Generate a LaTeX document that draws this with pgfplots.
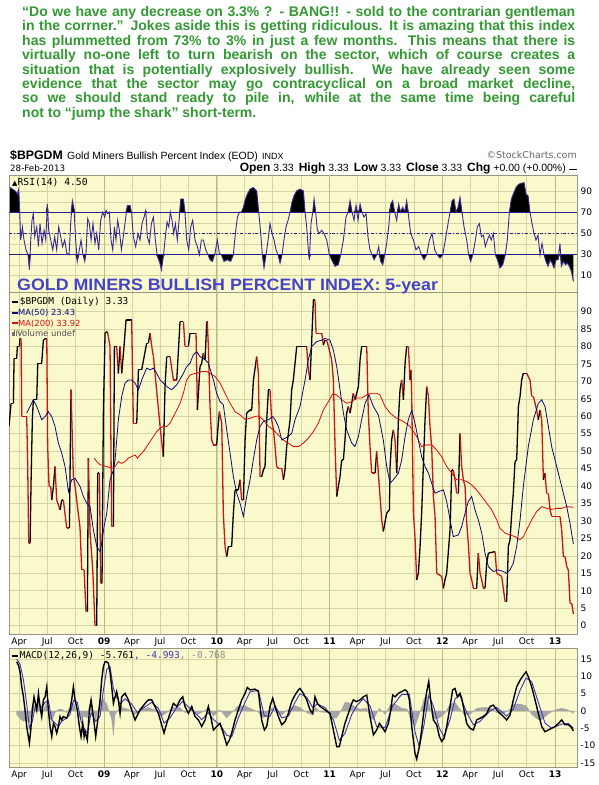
\documentclass[border=0pt]{standalone}
\usepackage{fontspec}
\setmainfont{Liberation Sans}
\newfontfamily\dejavu{DejaVu Sans}
\newfontfamily\dejamono{DejaVu Sans Mono}
\usepackage{graphicx}
\usepackage{pgfplots}
\pgfplotsset{compat=1.18}
\usepackage{pgfplotstable}

\definecolor{panelbg}{RGB}{250,249,204}
\definecolor{gridc}{RGB}{214,212,162}
\definecolor{yeargrid}{RGB}{186,184,132}
\definecolor{framec}{RGB}{150,150,130}
\definecolor{textgreen}{RGB}{51,153,51}
\definecolor{titleblue}{RGB}{68,68,200}
\definecolor{rsiline}{RGB}{58,40,150}
\definecolor{rsiref}{RGB}{40,30,140}
\definecolor{ma50}{RGB}{10,10,120}
\definecolor{ma200}{RGB}{225,10,10}
\definecolor{histgray}{RGB}{165,165,165}
\definecolor{sigblue}{RGB}{60,50,190}

% $BPGDM daily close; c = 1 where the following segment is a decline
\pgfplotstableread{
x y c
2008.157 57.1 0
2008.175 63.7 0
2008.196 63.7 0
2008.202 76.6 0
2008.225 76.6 0
2008.231 80.0 0
2008.249 80.0 0
2008.255 82.3 0
2008.264 82.3 1
2008.270 59.9 1
2008.314 59.9 1
2008.323 45.6 1
2008.332 23.6 1
2008.344 23.6 0
2008.353 41.8 0
2008.364 59.0 0
2008.373 64.7 0
2008.403 64.7 0
2008.412 75.2 0
2008.447 75.2 0
2008.462 81.8 0
2008.483 82.3 0
2008.492 82.3 1
2008.500 51.3 1
2008.512 39.9 1
2008.527 39.9 1
2008.536 36.0 0
2008.551 39.9 0
2008.565 45.6 1
2008.580 36.0 1
2008.610 33.2 0
2008.625 36.0 0
2008.639 36.0 1
2008.669 28.0 1
2008.693 28.0 0
2008.707 67.6 1
2008.728 42.7 1
2008.743 39.9 1
2008.787 28.0 1
2008.802 16.0 1
2008.823 16.0 1
2008.840 4.0 1
2008.852 4.0 0
2008.861 48.0 1
2008.876 26.5 1
2008.900 16.0 1
2008.920 0.0 1
2008.935 0.0 0
2008.944 43.7 0
2008.959 43.7 1
2008.970 12.1 1
2008.982 12.1 0
2008.994 60.9 0
2009.009 83.8 0
2009.030 84.3 1
2009.038 82.8 1
2009.053 80.0 1
2009.068 28.4 1
2009.083 28.4 0
2009.092 80.0 0
2009.112 80.0 1
2009.127 72.3 0
2009.142 80.0 1
2009.157 72.3 0
2009.177 80.0 0
2009.195 87.6 0
2009.245 87.6 1
2009.260 58.0 1
2009.290 58.0 0
2009.305 73.3 0
2009.334 73.3 0
2009.378 80.9 0
2009.393 80.9 0
2009.408 83.8 1
2009.423 80.0 1
2009.438 77.1 1
2009.452 72.3 1
2009.497 57.1 1
2009.526 48.4 0
2009.541 68.5 0
2009.556 77.1 0
2009.585 77.1 1
2009.615 70.4 1
2009.645 70.4 0
2009.674 87.1 0
2009.704 87.1 1
2009.718 80.0 1
2009.748 80.0 0
2009.763 83.8 0
2009.816 83.8 1
2009.828 61.8 0
2009.851 74.2 0
2009.866 75.2 0
2009.881 78.1 1
2009.896 76.2 0
2009.911 87.1 0
2009.916 87.1 1
2009.925 80.0 1
2009.940 62.8 1
2009.955 53.2 1
2009.970 51.8 1
2009.999 51.8 0
2010.014 58.0 0
2010.023 61.3 1
2010.044 58.0 1
2010.058 32.2 1
2010.073 22.7 1
2010.088 19.8 0
2010.103 22.7 0
2010.132 22.7 0
2010.147 32.2 0
2010.162 38.9 0
2010.191 38.9 0
2010.206 41.8 1
2010.221 36.0 1
2010.236 36.0 0
2010.251 53.2 0
2010.265 60.9 0
2010.295 61.8 0
2010.310 61.8 0
2010.325 70.4 0
2010.354 77.1 1
2010.369 72.3 1
2010.384 42.7 1
2010.398 42.7 0
2010.413 44.6 0
2010.428 45.6 0
2010.443 59.0 0
2010.458 67.6 0
2010.472 67.6 1
2010.487 59.0 1
2010.502 56.1 1
2010.517 51.3 1
2010.531 45.6 1
2010.546 45.1 1
2010.576 45.1 1
2010.591 41.8 0
2010.605 44.6 0
2010.620 51.3 0
2010.635 55.1 0
2010.650 59.0 0
2010.664 67.6 0
2010.679 70.4 0
2010.694 75.2 0
2010.709 80.0 0
2010.797 80.0 1
2010.812 73.3 1
2010.827 70.4 0
2010.842 81.8 0
2010.857 93.3 0
2010.871 93.3 1
2010.880 83.8 1
2010.931 83.8 1
2010.945 80.4 0
2010.960 81.8 0
2010.975 81.8 1
2010.990 80.0 1
2011.019 76.2 1
2011.034 70.4 1
2011.049 51.3 1
2011.064 37.0 0
2011.078 39.9 0
2011.093 42.7 0
2011.108 47.5 0
2011.123 47.5 0
2011.137 53.2 0
2011.152 60.9 0
2011.167 62.8 1
2011.182 60.9 0
2011.197 63.7 0
2011.211 66.6 1
2011.226 64.7 0
2011.241 66.6 0
2011.256 68.5 0
2011.271 76.2 0
2011.285 80.0 0
2011.330 80.0 1
2011.344 60.9 1
2011.359 51.3 1
2011.374 43.7 1
2011.404 43.7 0
2011.418 49.9 1
2011.433 43.7 1
2011.448 37.0 1
2011.463 30.3 1
2011.477 27.0 0
2011.507 32.2 0
2011.531 33.2 0
2011.537 45.6 0
2011.551 53.2 0
2011.566 56.1 1
2011.581 53.2 1
2011.596 43.7 0
2011.611 59.0 0
2011.625 67.6 0
2011.640 70.4 1
2011.655 64.7 0
2011.670 75.2 0
2011.684 80.0 0
2011.699 80.0 1
2011.714 70.4 0
2011.723 73.3 1
2011.729 65.7 1
2011.744 32.2 1
2011.758 25.5 1
2011.773 13.1 0
2011.788 15.0 0
2011.803 22.7 0
2011.817 32.2 0
2011.832 45.6 0
2011.847 59.0 0
2011.862 68.5 1
2011.877 65.7 1
2011.891 57.1 1
2011.906 51.3 1
2011.921 37.0 1
2011.936 31.3 1
2011.951 15.0 1
2011.995 14.1 1
2012.010 10.7 0
2012.024 13.1 0
2012.039 15.0 0
2012.069 27.5 0
2012.084 44.6 0
2012.098 44.6 1
2012.113 41.8 1
2012.128 37.9 1
2012.143 37.9 0
2012.157 55.1 1
2012.172 45.6 1
2012.187 41.8 1
2012.202 39.9 1
2012.217 29.3 1
2012.231 23.6 1
2012.246 15.0 1
2012.261 13.1 1
2012.276 10.7 1
2012.305 10.7 0
2012.320 20.8 1
2012.335 15.0 1
2012.350 13.1 1
2012.364 10.7 1
2012.379 10.7 0
2012.394 17.9 0
2012.409 20.8 0
2012.468 21.2 1
2012.483 15.0 1
2012.527 14.1 1
2012.557 6.9 1
2012.571 6.9 0
2012.586 22.7 0
2012.601 24.6 0
2012.616 32.2 0
2012.630 37.9 0
2012.645 47.0 0
2012.660 47.5 0
2012.675 62.8 0
2012.690 65.7 0
2012.704 70.4 0
2012.719 72.3 0
2012.749 72.3 1
2012.763 71.4 1
2012.778 70.4 1
2012.793 65.7 1
2012.808 65.7 1
2012.837 61.8 1
2012.852 59.0 0
2012.867 61.8 1
2012.882 59.0 1
2012.897 41.8 0
2012.911 43.7 1
2012.926 37.9 1
2012.941 37.9 1
2012.956 33.2 1
2012.970 31.3 1
2013.044 31.3 1
2013.059 27.5 1
2013.074 19.8 1
2013.089 19.8 1
2013.104 16.9 1
2013.118 16.0 1
2013.133 6.4 1
2013.148 6.4 1
2013.163 3.3 1
}\bpgdm

% 50-day moving average
\pgfplotstableread{
x y
2008.314 60.9
2008.373 64.7
2008.403 62.8
2008.447 59.0
2008.477 59.9
2008.506 61.3
2008.536 59.9
2008.565 57.1
2008.595 52.3
2008.625 49.4
2008.654 45.6
2008.684 38.4
2008.713 41.8
2008.743 42.2
2008.787 39.9
2008.817 37.0
2008.846 35.1
2008.876 34.1
2008.905 27.5
2008.935 22.7
2008.965 21.2
2008.979 23.6
2009.000 28.4
2009.024 32.2
2009.053 41.8
2009.083 44.6
2009.098 47.5
2009.127 59.0
2009.157 65.7
2009.186 69.5
2009.216 70.4
2009.245 70.4
2009.275 69.5
2009.305 67.6
2009.334 70.4
2009.378 73.8
2009.408 73.3
2009.438 73.8
2009.467 72.3
2009.497 70.4
2009.526 69.5
2009.556 68.5
2009.600 67.6
2009.645 69.0
2009.689 71.4
2009.733 74.2
2009.763 75.2
2009.792 77.6
2009.822 78.5
2009.851 77.1
2009.896 76.2
2009.925 75.2
2009.970 70.4
2009.999 66.6
2010.029 64.2
2010.058 63.3
2010.088 56.1
2010.118 49.4
2010.147 42.7
2010.177 37.9
2010.206 35.1
2010.236 31.3
2010.265 37.0
2010.295 41.8
2010.324 47.5
2010.354 53.2
2010.384 57.1
2010.413 58.5
2010.458 59.0
2010.496 59.9
2010.517 59.0
2010.546 57.1
2010.576 53.2
2010.605 53.7
2010.635 54.2
2010.664 55.1
2010.694 59.0
2010.738 62.8
2010.783 70.4
2010.812 76.2
2010.842 80.0
2010.886 81.4
2010.931 81.8
2010.960 82.3
2011.004 81.8
2011.034 79.0
2011.064 74.2
2011.093 67.6
2011.123 60.9
2011.152 56.1
2011.197 52.3
2011.226 51.3
2011.256 54.2
2011.285 59.0
2011.315 63.7
2011.350 66.1
2011.389 62.8
2011.433 60.4
2011.477 53.2
2011.507 45.6
2011.537 40.8
2011.566 41.8
2011.611 43.7
2011.640 47.5
2011.670 54.2
2011.699 59.0
2011.729 61.8
2011.758 58.0
2011.788 53.2
2011.817 48.4
2011.847 45.6
2011.877 43.7
2011.906 40.8
2011.936 37.9
2011.965 38.4
2012.010 38.9
2012.039 35.6
2012.069 30.3
2012.098 25.5
2012.143 26.0
2012.172 28.4
2012.202 32.2
2012.231 35.6
2012.261 37.0
2012.290 33.2
2012.320 30.3
2012.350 26.5
2012.379 20.8
2012.409 16.9
2012.453 15.5
2012.497 16.0
2012.542 15.5
2012.571 15.0
2012.601 16.0
2012.630 17.9
2012.660 22.7
2012.690 30.3
2012.719 39.9
2012.763 51.3
2012.808 59.0
2012.852 63.7
2012.882 64.7
2012.911 62.8
2012.941 57.1
2012.970 51.3
2013.015 45.6
2013.059 39.9
2013.104 34.1
2013.133 29.3
2013.163 23.4
}\masmall

% 200-day moving average
\pgfplotstableread{
x y
2008.914 48.0
2008.935 47.0
2008.965 46.1
2009.024 45.6
2009.068 45.1
2009.098 45.6
2009.127 47.0
2009.157 46.5
2009.186 47.0
2009.216 48.0
2009.245 48.4
2009.275 48.9
2009.296 48.0
2009.319 48.9
2009.349 49.9
2009.378 51.3
2009.408 52.7
2009.438 54.2
2009.467 55.6
2009.497 56.6
2009.526 57.1
2009.556 57.1
2009.585 58.0
2009.615 59.9
2009.645 61.8
2009.674 63.7
2009.704 66.6
2009.733 70.4
2009.763 71.8
2009.807 72.3
2009.822 72.3
2009.866 72.8
2009.911 72.8
2009.940 72.3
2009.984 71.4
2010.029 69.5
2010.073 66.6
2010.118 63.7
2010.162 61.3
2010.206 60.4
2010.251 59.1
2010.295 59.4
2010.339 59.9
2010.369 60.1
2010.413 59.0
2010.458 57.1
2010.502 56.1
2010.546 54.6
2010.591 53.2
2010.635 52.3
2010.679 51.3
2010.724 51.3
2010.768 52.3
2010.812 53.7
2010.857 55.6
2010.901 58.0
2010.945 61.8
2010.990 64.2
2011.028 66.4
2011.064 66.1
2011.108 64.7
2011.152 63.7
2011.197 64.2
2011.241 65.2
2011.285 65.2
2011.330 66.1
2011.374 66.6
2011.418 66.6
2011.448 66.1
2011.492 62.8
2011.537 60.9
2011.596 59.4
2011.655 58.5
2011.714 57.1
2011.773 54.2
2011.817 51.3
2011.862 51.8
2011.906 51.8
2011.951 50.3
2011.995 48.4
2012.039 45.6
2012.084 43.7
2012.128 41.8
2012.172 41.8
2012.217 41.3
2012.261 40.3
2012.305 38.9
2012.350 37.0
2012.394 35.1
2012.438 33.2
2012.483 30.3
2012.512 27.9
2012.557 26.5
2012.601 26.0
2012.645 25.5
2012.690 24.6
2012.719 25.5
2012.749 27.5
2012.793 30.3
2012.837 32.7
2012.882 34.1
2012.926 33.6
2012.970 33.3
2013.015 33.6
2013.059 33.6
2013.104 34.1
2013.163 33.9
}\mabig

% RSI(14)
\pgfplotstableread{
x y
2008.166 93.8
2008.211 90.6
2008.231 87.5
2008.243 92.2
2008.252 70.3
2008.261 43.8
2008.276 56.3
2008.290 43.8
2008.308 34.4
2008.326 29.7
2008.338 15.6
2008.350 43.8
2008.361 62.5
2008.373 68.8
2008.385 46.9
2008.403 56.3
2008.418 37.5
2008.432 59.4
2008.450 40.6
2008.468 53.1
2008.483 43.8
2008.497 78.1
2008.509 53.1
2008.527 43.8
2008.545 34.4
2008.562 46.9
2008.580 34.4
2008.598 56.3
2008.616 46.9
2008.633 37.5
2008.651 43.8
2008.669 31.3
2008.690 29.7
2008.704 59.4
2008.719 81.3
2008.734 73.4
2008.746 46.9
2008.763 23.4
2008.781 34.4
2008.796 43.8
2008.811 31.3
2008.829 23.4
2008.840 31.3
2008.855 64.1
2008.870 59.4
2008.885 43.8
2008.902 59.4
2008.920 40.6
2008.935 50.0
2008.953 34.4
2008.970 62.5
2008.988 70.3
2009.006 65.6
2009.018 71.9
2009.033 68.8
2009.047 70.3
2009.062 43.8
2009.077 34.4
2009.092 56.3
2009.106 43.8
2009.121 62.5
2009.136 53.1
2009.154 34.4
2009.171 46.9
2009.189 62.5
2009.207 76.6
2009.231 76.6
2009.245 68.8
2009.260 46.9
2009.281 37.5
2009.302 50.0
2009.319 43.8
2009.337 59.4
2009.355 65.6
2009.370 71.9
2009.384 46.9
2009.402 40.6
2009.420 59.4
2009.438 65.6
2009.455 43.8
2009.473 28.1
2009.491 23.4
2009.509 15.6
2009.526 28.1
2009.544 46.9
2009.559 60.9
2009.574 56.3
2009.588 70.3
2009.603 62.5
2009.618 50.0
2009.633 59.4
2009.650 43.8
2009.668 65.6
2009.680 82.8
2009.704 82.8
2009.718 70.3
2009.733 43.8
2009.751 34.4
2009.769 56.3
2009.786 62.5
2009.807 43.8
2009.828 37.5
2009.846 29.7
2009.863 43.8
2009.881 43.8
2009.902 34.4
2009.922 29.7
2009.940 25.0
2009.961 23.4
2009.984 31.3
2010.005 43.8
2010.023 31.3
2010.041 29.7
2010.064 23.4
2010.094 25.0
2010.123 23.4
2010.147 29.7
2010.165 50.0
2010.183 65.6
2010.200 70.3
2010.218 70.3
2010.236 75.0
2010.254 82.8
2010.271 87.5
2010.295 92.2
2010.324 93.8
2010.354 90.6
2010.372 70.3
2010.390 50.0
2010.404 29.7
2010.419 17.2
2010.437 29.7
2010.455 43.8
2010.472 59.4
2010.490 50.0
2010.508 43.8
2010.526 34.4
2010.543 29.7
2010.561 21.9
2010.579 29.7
2010.596 43.8
2010.614 56.3
2010.632 62.5
2010.650 70.3
2010.667 79.7
2010.685 85.9
2010.709 90.6
2010.738 92.2
2010.768 90.6
2010.783 70.3
2010.797 56.3
2010.812 34.4
2010.821 25.0
2010.836 59.4
2010.851 70.3
2010.863 82.8
2010.877 70.3
2010.892 53.1
2010.910 50.0
2010.931 53.1
2010.951 50.0
2010.975 43.8
2010.999 29.7
2011.019 25.0
2011.049 18.8
2011.078 20.3
2011.099 29.7
2011.123 43.8
2011.146 65.6
2011.164 70.3
2011.182 81.3
2011.200 70.3
2011.217 62.5
2011.235 76.6
2011.253 62.5
2011.271 78.1
2011.288 70.3
2011.306 65.6
2011.324 68.8
2011.341 46.9
2011.359 34.4
2011.377 29.7
2011.395 25.0
2011.418 29.7
2011.436 37.5
2011.454 23.4
2011.472 20.3
2011.489 29.7
2011.507 40.6
2011.525 56.3
2011.543 78.1
2011.560 81.3
2011.578 70.3
2011.596 62.5
2011.613 78.1
2011.631 70.3
2011.649 75.0
2011.667 70.3
2011.684 81.3
2011.702 65.6
2011.720 50.0
2011.744 43.8
2011.767 34.4
2011.791 37.5
2011.815 29.7
2011.838 25.0
2011.862 29.7
2011.886 43.8
2011.909 50.0
2011.933 34.4
2011.956 29.7
2011.980 26.6
2012.004 29.7
2012.027 43.8
2012.051 59.4
2012.069 70.3
2012.087 81.3
2012.104 82.8
2012.122 70.3
2012.140 75.0
2012.157 84.4
2012.175 70.3
2012.193 56.3
2012.217 43.8
2012.234 29.7
2012.252 23.4
2012.270 29.7
2012.294 43.8
2012.311 56.3
2012.329 59.4
2012.347 46.9
2012.365 48.4
2012.382 37.5
2012.400 43.8
2012.418 48.4
2012.435 43.8
2012.453 50.0
2012.471 29.7
2012.489 25.0
2012.512 17.2
2012.536 20.3
2012.559 29.7
2012.577 43.8
2012.595 70.3
2012.613 82.8
2012.630 87.5
2012.654 93.8
2012.678 96.9
2012.702 97.8
2012.725 98.4
2012.743 87.5
2012.761 85.9
2012.778 70.3
2012.796 59.4
2012.814 50.0
2012.831 43.8
2012.849 48.4
2012.867 29.7
2012.885 40.6
2012.902 29.7
2012.920 23.4
2012.938 18.8
2012.956 25.0
2012.973 21.9
2012.991 17.2
2013.009 25.0
2013.027 25.0
2013.044 40.6
2013.056 18.8
2013.074 23.4
2013.092 20.3
2013.109 21.9
2013.127 18.8
2013.145 14.1
2013.163 4.5
}\rsidata

% MACD(12,26,9) line
\pgfplotstableread{
x y
2008.225 14.2
2008.240 13.3
2008.255 11.3
2008.270 7.0
2008.285 4.1
2008.299 0.3
2008.314 -4.5
2008.338 -9.3
2008.350 -5.5
2008.364 0.3
2008.379 4.1
2008.391 2.2
2008.403 0.3
2008.418 5.1
2008.432 1.3
2008.447 -1.6
2008.462 3.2
2008.477 4.1
2008.492 7.0
2008.506 0.3
2008.521 -4.5
2008.536 -7.4
2008.551 -3.6
2008.565 -4.5
2008.580 -6.4
2008.595 -4.5
2008.610 -1.6
2008.625 -2.6
2008.639 -1.6
2008.669 -2.1
2008.684 -0.7
2008.698 0.3
2008.713 3.2
2008.728 7.0
2008.743 3.2
2008.763 0.3
2008.781 -4.5
2008.796 -7.4
2008.811 -3.6
2008.823 -7.4
2008.831 -6.0
2008.852 -8.4
2008.870 0.3
2008.885 3.2
2008.905 -1.6
2008.926 -7.4
2008.941 -3.6
2008.965 3.2
2008.979 8.9
2008.994 12.8
2009.009 14.2
2009.024 14.2
2009.038 13.8
2009.053 11.3
2009.068 7.0
2009.083 2.2
2009.098 4.1
2009.112 5.6
2009.127 3.2
2009.142 -0.7
2009.157 4.1
2009.186 5.1
2009.216 3.2
2009.245 0.3
2009.275 -2.6
2009.296 -1.2
2009.319 0.3
2009.364 2.2
2009.393 3.2
2009.423 3.2
2009.452 1.3
2009.482 -0.7
2009.511 -4.0
2009.532 -6.4
2009.556 -3.6
2009.585 -0.7
2009.615 2.2
2009.645 1.3
2009.674 3.2
2009.698 4.1
2009.718 1.3
2009.748 -0.7
2009.778 1.3
2009.807 -1.6
2009.837 -2.6
2009.866 -4.5
2009.896 -2.6
2009.925 1.3
2009.946 -1.6
2009.970 -5.5
2009.999 -4.5
2010.029 -3.6
2010.058 -6.4
2010.088 -9.8
2010.112 -8.4
2010.132 -6.4
2010.162 -2.6
2010.191 0.3
2010.221 3.2
2010.251 5.1
2010.271 6.8
2010.295 6.1
2010.339 6.3
2010.369 5.6
2010.398 -2.6
2010.422 -5.5
2010.443 -4.5
2010.472 1.3
2010.496 3.7
2010.517 1.3
2010.546 -1.6
2010.576 -4.0
2010.605 -3.1
2010.635 -0.7
2010.664 2.7
2010.694 4.6
2010.724 6.1
2010.738 6.5
2010.768 5.1
2010.797 3.2
2010.827 0.3
2010.851 -0.7
2010.871 4.1
2010.892 2.2
2010.916 1.3
2010.960 0.3
2011.004 -0.7
2011.034 -5.5
2011.064 -10.3
2011.087 -10.3
2011.108 -7.4
2011.137 -3.6
2011.167 -0.7
2011.197 2.2
2011.211 3.2
2011.241 2.7
2011.271 3.2
2011.300 4.1
2011.330 4.6
2011.359 -1.6
2011.389 -6.9
2011.418 -5.5
2011.442 -3.6
2011.463 -4.5
2011.492 -6.0
2011.522 -3.6
2011.543 0.3
2011.560 4.6
2011.581 4.1
2011.611 5.1
2011.640 5.6
2011.670 6.1
2011.690 5.6
2011.708 3.2
2011.729 -4.5
2011.758 -12.2
2011.773 -13.9
2011.797 -10.3
2011.817 -5.5
2011.838 0.3
2011.862 5.6
2011.880 8.5
2011.897 3.2
2011.921 -2.6
2011.951 -4.0
2011.974 -7.4
2011.995 -8.8
2012.016 -7.9
2012.039 -4.5
2012.069 1.3
2012.092 6.1
2012.113 6.5
2012.134 4.1
2012.157 5.1
2012.172 3.7
2012.193 0.3
2012.217 -3.6
2012.246 -5.0
2012.276 -5.5
2012.305 -2.6
2012.335 -2.1
2012.365 -1.6
2012.394 -0.7
2012.424 1.3
2012.453 1.7
2012.483 0.3
2012.512 -0.7
2012.542 -1.6
2012.571 -2.6
2012.601 -1.2
2012.630 3.2
2012.660 7.0
2012.690 8.9
2012.719 10.3
2012.743 11.3
2012.763 9.9
2012.793 7.0
2012.823 3.2
2012.852 -0.7
2012.882 -4.5
2012.911 -6.0
2012.941 -5.5
2012.970 -5.0
2013.000 -4.5
2013.030 -3.6
2013.059 -2.6
2013.089 -4.0
2013.118 -4.0
2013.139 -4.5
2013.163 -5.761
}\macddata

% signal line (9-day EMA of MACD)
\pgfplotstableread{
x y
2008.225 15.0
2008.255 13.5
2008.285 9.0
2008.314 2.0
2008.338 -5.0
2008.364 -3.0
2008.391 1.5
2008.418 2.5
2008.447 1.0
2008.477 2.5
2008.506 3.0
2008.536 -2.5
2008.565 -3.5
2008.595 -4.5
2008.625 -3.0
2008.669 -2.0
2008.698 -1.0
2008.728 3.0
2008.763 2.5
2008.796 -3.0
2008.823 -5.0
2008.852 -6.5
2008.885 -0.5
2008.926 -3.0
2008.965 -1.5
2008.994 6.0
2009.024 12.0
2009.053 12.8
2009.083 6.5
2009.112 4.0
2009.142 2.0
2009.186 3.5
2009.245 2.0
2009.296 -0.5
2009.364 1.2
2009.423 2.5
2009.482 0.8
2009.532 -3.5
2009.585 -2.0
2009.645 1.0
2009.698 2.8
2009.748 1.2
2009.807 -0.5
2009.866 -2.5
2009.925 -0.5
2009.970 -2.5
2010.029 -4.0
2010.088 -7.0
2010.132 -7.5
2010.191 -2.0
2010.251 2.5
2010.295 5.5
2010.369 6.0
2010.422 -1.5
2010.472 -1.5
2010.517 1.5
2010.576 -2.0
2010.635 -1.5
2010.694 2.5
2010.738 5.0
2010.797 4.0
2010.851 1.0
2010.892 2.0
2010.960 1.0
2011.034 -2.5
2011.087 -8.5
2011.137 -6.5
2011.197 -1.0
2011.241 1.5
2011.300 3.5
2011.359 1.5
2011.418 -4.5
2011.492 -4.8
2011.560 1.5
2011.640 4.8
2011.708 4.8
2011.758 -6.0
2011.797 -10.5
2011.838 -4.0
2011.880 4.5
2011.921 1.5
2011.974 -5.0
2012.016 -7.5
2012.069 -2.5
2012.113 3.5
2012.157 4.5
2012.217 -0.5
2012.276 -4.0
2012.335 -3.0
2012.424 0.0
2012.483 1.0
2012.571 -1.5
2012.630 0.5
2012.690 6.0
2012.743 9.5
2012.793 8.5
2012.852 2.5
2012.911 -3.5
2012.970 -5.0
2013.059 -3.8
2013.118 -3.6
2013.163 -4.993
}\signaldata

% MACD histogram
\pgfplotstableread{
x y
2008.225 -1.0
2008.255 -2.2
2008.285 -3.0
2008.314 -2.5
2008.338 -3.5
2008.350 -1.0
2008.364 2.0
2008.391 1.0
2008.418 2.0
2008.447 -1.5
2008.477 1.5
2008.492 2.5
2008.521 -2.0
2008.536 -3.0
2008.565 -0.5
2008.595 0.5
2008.625 0.5
2008.669 -0.5
2008.698 1.0
2008.728 2.5
2008.763 -0.5
2008.796 -2.5
2008.823 -1.5
2008.852 -2.0
2008.870 1.5
2008.885 2.5
2008.926 -2.5
2008.965 2.5
2008.994 3.5
2009.024 2.0
2009.053 -1.0
2009.068 -2.5
2009.083 -7.0
2009.098 -1.0
2009.127 0.5
2009.157 1.0
2009.216 0.5
2009.275 -1.0
2009.319 0.3
2009.393 1.0
2009.452 0.3
2009.511 -1.5
2009.556 -0.5
2009.615 1.0
2009.674 1.0
2009.718 -0.5
2009.778 0.5
2009.837 -1.0
2009.896 0.2
2009.925 1.0
2009.970 -1.5
2010.029 0.3
2010.088 -2.0
2010.132 -0.5
2010.191 1.5
2010.251 1.5
2010.295 0.8
2010.369 -0.3
2010.398 -2.0
2010.443 -1.5
2010.472 1.0
2010.517 0.3
2010.576 -1.2
2010.635 0.5
2010.694 1.5
2010.738 1.0
2010.797 -0.5
2010.851 -1.2
2010.871 1.2
2010.916 -0.3
2011.004 -0.5
2011.034 -2.0
2011.064 -2.0
2011.108 0.5
2011.137 2.5
2011.167 2.5
2011.211 1.5
2011.271 0.5
2011.330 0.8
2011.359 -2.0
2011.389 -2.5
2011.442 0.8
2011.492 -1.0
2011.543 2.0
2011.581 2.0
2011.640 0.8
2011.690 0.5
2011.729 -3.5
2011.758 -4.5
2011.797 -1.0
2011.838 3.5
2011.862 4.5
2011.880 2.5
2011.921 -2.5
2011.974 -2.0
2012.016 -1.0
2012.069 2.0
2012.113 2.5
2012.157 0.5
2012.193 -1.0
2012.246 -1.0
2012.305 0.8
2012.365 1.0
2012.424 1.0
2012.483 -0.5
2012.542 -0.8
2012.601 0.5
2012.630 2.0
2012.690 2.0
2012.743 1.5
2012.793 -1.0
2012.852 -2.5
2012.882 -2.5
2012.941 -0.8
2013.000 0.3
2013.059 0.8
2013.118 0.3
2013.163 -0.768
}\histdata

\pgfplotsset{
  panel/.style={
    scale only axis, width=568pt, anchor=south west,
    xmin=2008.157, xmax=2013.195,
    scaled x ticks=false, scaled y ticks=false,
    axis background/.style={fill=panelbg},
    axis line style={draw=framec, line width=0.6pt},
    grid=major,
    major grid style={draw=gridc, line width=0.5pt},
    xtick={2008.247,2008.496,2008.748,2009,2009.247,2009.496,2009.748,2010,
           2010.247,2010.496,2010.748,2011,2011.247,2011.496,2011.748,2012,
           2012.247,2012.496,2012.748,2013},
    extra x ticks={2009,2010,2011,2012,2013},
    extra x tick labels={},
    extra x tick style={major grid style={draw=yeargrid, line width=0.6pt}},
    major tick length=0pt,
    yticklabel pos=right,
    tick label style={font=\dejavu\fontsize{9}{10}\selectfont},
    /pgf/number format/assume math mode=true,
  },
  % transparent layer lying exactly over a panel
  overlay/.style={
    scale only axis, width=568pt, anchor=south west,
    xmin=2008.157, xmax=2013.195,
    hide axis, clip=true,
  },
  datelabels/.style={
    xticklabels={Apr,Jul,Oct,\textbf{09},Apr,Jul,Oct,\textbf{10},Apr,Jul,Oct,\textbf{11},
                 Apr,Jul,Oct,\textbf{12},Apr,Jul,Oct,\textbf{13}},
  },
}

\newcommand{\lab}[1]{{\bfseries\fontsize{12}{12}\selectfont #1}}

\begin{document}
\begin{tikzpicture}[x=1pt,y=1pt]
\path[use as bounding box, fill=white] (0,0) rectangle (599,785);

% ---------- RSI panel ----------
\begin{axis}[panel, at={(9pt,493pt)}, height=117pt,
  ymin=-5.7, ymax=105.7,
  ytick={10,20,...,90}, yticklabels={10,,30,,50,,70,,90},
  xticklabels={}]
  \addplot[draw=none, forget plot] coordinates {(2009,50)};
\end{axis}
% overbought area (RSI above 70), measured from the 70 line
\begin{axis}[overlay, at={(9pt,493pt)}, height=117pt, ymin=-75.7, ymax=35.7]
  \addplot[fill=black, draw=none] table[y expr={max(\thisrow{y}-70,0)}] {\rsidata} \closedcycle;
\end{axis}
% oversold area (RSI below 30), measured from the 30 line
\begin{axis}[overlay, at={(9pt,493pt)}, height=117pt, ymin=-35.7, ymax=75.7]
  \addplot[fill=black, draw=none] table[y expr={min(\thisrow{y}-30,0)}] {\rsidata} \closedcycle;
\end{axis}
\begin{axis}[overlay, at={(9pt,493pt)}, height=117pt, ymin=-5.7, ymax=105.7]
  \addplot[rsiref, line width=0.9pt] coordinates {(2008.157,70) (2013.195,70)};
  \addplot[rsiref, line width=0.9pt] coordinates {(2008.157,30) (2013.195,30)};
  \addplot[rsiref, line width=0.7pt, dash dot] coordinates {(2008.157,50) (2013.195,50)};
  \addplot[rsiline, line width=0.9pt] table {\rsidata};
\end{axis}

% ---------- price panel ----------
\begin{axis}[panel, datelabels, at={(9pt,151pt)}, height=342pt,
  ymin=-2.4, ymax=95.6, ytick={0,5,...,90},
  colormap={updown}{rgb255=(0,0,0) rgb255=(200,20,20)}]
  \addplot[mesh, point meta=explicit, shader=flat corner,
    point meta min=0, point meta max=1, line width=1.3pt]
    table[meta=c] {\bpgdm};
  \addplot[ma200, line width=0.8pt] table {\mabig};
  \addplot[ma50, line width=0.8pt] table {\masmall};
\end{axis}

% ---------- MACD panel ----------
\begin{axis}[panel, datelabels, at={(9pt,18pt)}, height=119pt,
  ymin=-16.2, ymax=18.2, ytick={-15,-10,...,15}]
  \addplot[fill=histgray, draw=histgray, line width=0.3pt] table {\histdata} \closedcycle;
  \addplot[sigblue, line width=0.9pt] table {\signaldata};
  \addplot[black, line width=1.4pt] table {\macddata};
\end{axis}

% ---------- commentary ----------
\begin{scope}[every node/.style={anchor=base west, inner sep=0pt, text=textgreen,
    font=\bfseries\fontsize{14}{14}\selectfont}]
\node at (22,768.5) {\makebox[553pt][s]{“Do we have any decrease on 3.3\% ? - BANG!! - sold to the contrarian gentleman}};
\node at (22,754.1) {\makebox[553pt][s]{in the corrner.” Jokes aside this is getting ridiculous. It is amazing that this index}};
\node at (22,739.7) {\makebox[553pt][s]{has plummetted from 73\% to 3\% in just a few months. This means that there is}};
\node at (22,725.3) {\makebox[553pt][s]{virtually no-one left to turn bearish on the sector, which of course creates a}};
\node at (22,710.9) {\makebox[553pt][s]{situation that is potentially explosively bullish. We have already seen some}};
\node at (22,696.5) {\makebox[553pt][s]{evidence that the sector may go contracyclical on a broad market decline,}};
\node at (22,682.1) {\makebox[553pt][s]{so we should stand ready to pile in, while at the same time being careful}};
\node at (22,667.7) {not to “jump the shark” short-term.};
\end{scope}

% ---------- chart header ----------
\node[anchor=base west, inner sep=0pt, font=\bfseries\fontsize{12.3}{12.3}\selectfont] at (10,625) {\$BPGDM};
\node[anchor=base west, inner sep=0pt, font=\fontsize{10.5}{10.5}\selectfont] at (67,625) {Gold Miners Bullish Percent Index (EOD)};
\node[anchor=base west, inner sep=0pt, font=\fontsize{9}{9}\selectfont] at (262,625) {INDX};
\node[anchor=base east, inner sep=0pt, text=black!60, font=\dejavu\fontsize{9.5}{9.5}\selectfont] at (577,626.7) {©StockCharts.com};
\node[anchor=base west, inner sep=0pt, font=\dejavu\fontsize{8.7}{8.7}\selectfont] at (10,613) {28-Feb-2013};
\node[anchor=base east, inner sep=0pt, font=\fontsize{10.5}{10.5}\selectfont] at (577,613)
  {\lab{Open} 3.33\hspace{5pt}\lab{High} 3.33\hspace{5pt}\lab{Low} 3.33\hspace{5pt}\lab{Close} 3.33\hspace{5pt}\lab{Chg} +0.00 (+0.00\%)\hspace{3pt}\rule[0.3ex]{8pt}{1.8pt}};

% ---------- panel legends ----------
\node[anchor=base west, inner sep=0pt, font=\dejamono\fontsize{9.7}{9.7}\selectfont] at (12,599.5)
  {{\dejavu\fontsize{7}{7}\selectfont ▲}RSI(14) 4.50};
\node[anchor=base west, inner sep=0pt, text=titleblue, font=\bfseries\fontsize{16.5}{16.5}\selectfont] at (17,494)
  {\scalebox{1.08}[1]{GOLD MINERS BULLISH PERCENT INDEX: 5-year}};
\node[anchor=base west, inner sep=0pt, font=\dejamono\fontsize{9.5}{9.5}\selectfont] at (12,480)
  {\rule[0.25em]{6pt}{2pt}\,\$BPGDM (Daily) 3.33};
\node[anchor=base west, inner sep=0pt, text=ma50, font=\dejavu\fontsize{8.4}{8.4}\selectfont] at (12,469)
  {\rule[0.25em]{6pt}{2pt}MA(50) 23.43};
\node[anchor=base west, inner sep=0pt, text=ma200, font=\dejavu\fontsize{8.4}{8.4}\selectfont] at (12,458.5)
  {\rule[0.25em]{6pt}{2pt}MA(200) 33.92};
\node[anchor=base west, inner sep=0pt, text=black!70, font=\dejavu\fontsize{8.4}{8.4}\selectfont] at (12,448.5)
  {\textcolor{black!55}{\rule{1.3pt}{4pt}\hspace{0.5pt}\rule{1.3pt}{6.5pt}\hspace{0.5pt}\rule{1.3pt}{5pt}}Volume undef};
\node[anchor=base west, inner sep=0pt, font=\dejamono\fontsize{9.5}{9.5}\selectfont] at (12,126)
  {\rule[0.25em]{6pt}{2pt}\,MACD(12,26,9) -5.761\textcolor{sigblue}{, -4.993}\textcolor{black!45}{, -0.768}};
\end{tikzpicture}
\end{document}
